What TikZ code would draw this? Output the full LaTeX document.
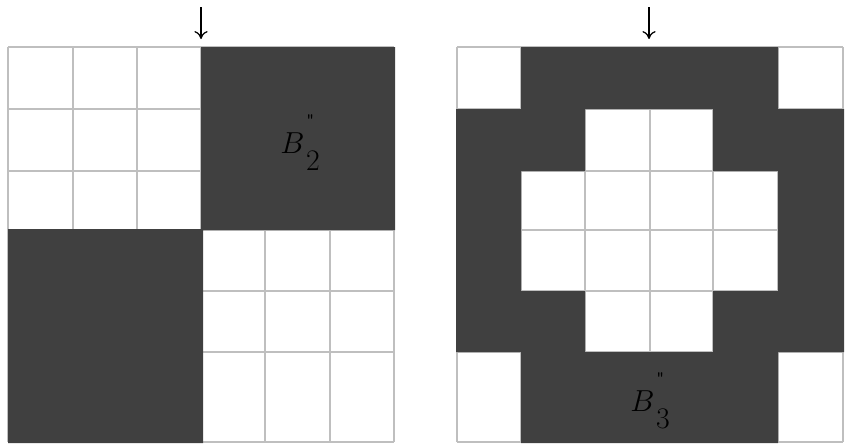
\documentclass[tikz,border=0pt]{standalone}
\usepackage{tikz}
\usetikzlibrary{arrows.meta}
\definecolor{cellDark}{HTML}{404040}
\definecolor{gridGray}{HTML}{BFBFBF}

\begin{document}
\begin{tikzpicture}[
  x=0.02cm, y=-0.02cm,
  gridline/.style={draw=gridGray, line width=1.2pt},
  darkcell/.style={fill=cellDark},
  marker/.style={-{To[length=4.5pt,width=7.5pt]}, line width=0.7pt},
  lab/.style={font=\fontsize{17}{20}\selectfont, inner sep=0pt, anchor=base west}
]
\useasboundingbox (0,0) rectangle (852,443);

% left block
\foreach \x in {8,73,137,201,265,330,394} \draw[gridline] (\x,47) -- (\x,442);
\foreach \y in {47,109,171,230,291,352,442} \draw[gridline] (8,\y) -- (394,\y);
\fill[darkcell] (201,47) rectangle (395,230) (8,229) rectangle (203,443);

% right block
\foreach \x in {457,521,585,650,713,778,843} \draw[gridline] (\x,47) -- (\x,442);
\foreach \y in {47,109,171,230,291,352,442} \draw[gridline] (457,\y) -- (843,\y);
\fill[darkcell, even odd rule]
  (521,47) -- (778,47) -- (778,109) -- (844,109) -- (844,352) -- (778,352) -- (778,443)
  -- (521,443) -- (521,352) -- (456,352) -- (456,109) -- (521,109) -- cycle
  (585,109) -- (713,109) -- (713,171) -- (778,171) -- (778,291) -- (713,291) -- (713,352)
  -- (585,352) -- (585,291) -- (521,291) -- (521,171) -- (585,171) -- cycle;

\node[lab] (lblBtwo) at (280,153) {$B$\kern1pt\rlap{\raisebox{16pt}{\ttfamily\small "}}\raisebox{-10pt}{2}};
\node[lab] (lblBthree) at (630,411) {$B$\kern1pt\rlap{\raisebox{16pt}{\ttfamily\small "}}\raisebox{-10pt}{3}};

\coordinate (inLtop) at (201,7);
\coordinate (inLbot) at (201,39);
\coordinate (inRtop) at (649,7);
\coordinate (inRbot) at (649,39);
\draw[marker] (inLtop) -- (inLbot);
\draw[marker] (inRtop) -- (inRbot);
\end{tikzpicture}
\end{document}
